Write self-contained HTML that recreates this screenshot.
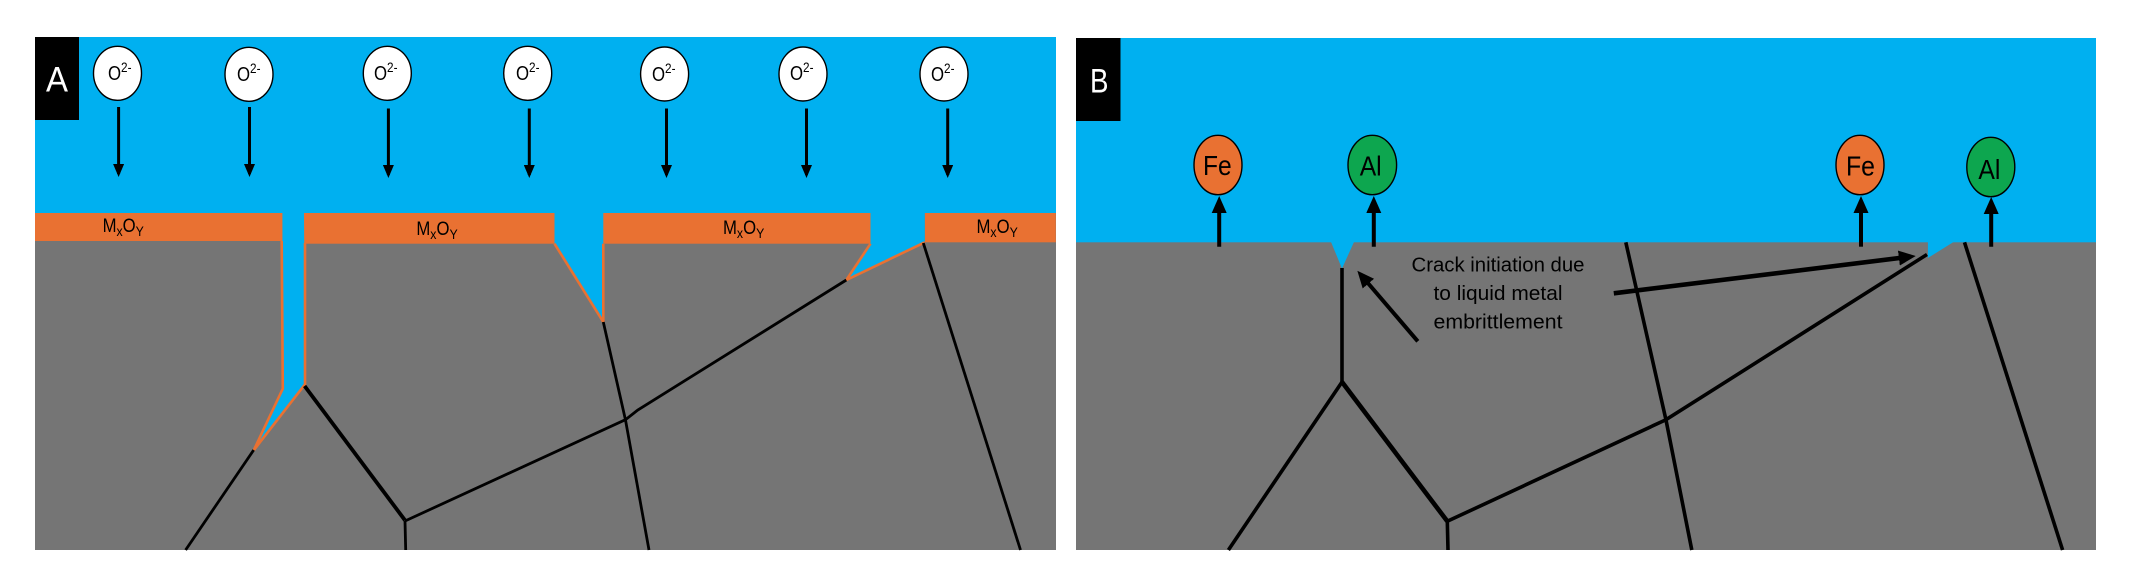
<!DOCTYPE html>
<html><head><meta charset="utf-8"><style>
html,body{margin:0;padding:0;background:#fff;width:2134px;height:587px;overflow:hidden}
svg{display:block}
text{font-family:"Liberation Sans",sans-serif;fill:#000}
</style></head><body>
<svg width="2134" height="587" viewBox="0 0 2134 587" xmlns="http://www.w3.org/2000/svg">
<defs>
<marker id="h1" viewBox="0 0 13 11" refX="10" refY="5.5" markerUnits="userSpaceOnUse" markerWidth="13" markerHeight="11" orient="auto"><path d="M0 0L13 5.5L0 11z" fill="#000"/></marker>
<marker id="h2" viewBox="0 0 17 15" refX="12" refY="7.5" markerUnits="userSpaceOnUse" markerWidth="17" markerHeight="15" orient="auto"><path d="M0 0L17 7.5L0 15z" fill="#000"/></marker>
</defs>

<!-- PANEL A -->
<rect x="35" y="37" width="1021" height="513" fill="#757575"/>
<rect x="35" y="37" width="1021" height="176" fill="#00B0F0"/>
<!-- oxide -->
<rect x="35" y="213" width="247.5" height="28" fill="#E97132"/>
<rect x="304" y="213" width="250.5" height="30.7" fill="#E97132"/>
<rect x="601" y="213" width="269.5" height="30.7" fill="#E97132"/>
<rect x="924.8" y="213" width="131" height="29.3" fill="#E97132"/>
<!-- cracks -->
<path d="M282.4 213L282.8 388.7L253.7 450.3L305 384.3L304 213z" fill="#00B0F0"/>
<path d="M554.5 213V243.7L603.3 322V213z" fill="#00B0F0"/>
<path d="M870.5 213V243.7L846.3 280L924.8 242.3V213z" fill="#00B0F0"/>
<g fill="none" stroke="#E97132" stroke-width="2.6">
<path d="M281.7 241L282.8 388.7L253.7 450.3L305 384.3L305 243"/>
<path d="M554.5 243.7L603.3 322L603.3 243.7"/>
<path d="M870.5 243.7L846.3 280L924.8 242.3"/>
</g>
<!-- grain boundaries A -->
<g fill="none" stroke="#000" stroke-width="2.8">
<path d="M253.7 450L185.6 550"/>
<path d="M304.6 386L405 520.3" stroke-width="3.8"/>
<path d="M405 521L405.7 550"/>
<path d="M405 521L625.5 419.7L637.8 410L846.3 280"/>
<path d="M603.3 322L625.5 420L649 550"/>
<path d="M923.3 243L1020.5 550"/>
</g>
<!-- O2- ions -->
<g fill="#fff" stroke="#000" stroke-width="1.4">
<ellipse cx="117.5" cy="73.3" rx="24" ry="27"/>
<ellipse cx="249" cy="74.3" rx="24" ry="27"/>
<ellipse cx="387.3" cy="73.3" rx="24" ry="27"/>
<ellipse cx="527.7" cy="73.3" rx="24" ry="27"/>
<ellipse cx="664.6" cy="74" rx="24" ry="27"/>
<ellipse cx="803" cy="74" rx="24" ry="27"/>
<ellipse cx="944" cy="74" rx="24" ry="27"/>
</g>
<g font-size="20">
<g transform="translate(108,80) scale(.84,1)"><text>O<tspan font-size="14" dy="-8">2-</tspan></text></g>
<g transform="translate(237,81) scale(.84,1)"><text>O<tspan font-size="14" dy="-8">2-</tspan></text></g>
<g transform="translate(374,80) scale(.84,1)"><text>O<tspan font-size="14" dy="-8">2-</tspan></text></g>
<g transform="translate(516,80) scale(.84,1)"><text>O<tspan font-size="14" dy="-8">2-</tspan></text></g>
<g transform="translate(652,81) scale(.84,1)"><text>O<tspan font-size="14" dy="-8">2-</tspan></text></g>
<g transform="translate(790,80) scale(.84,1)"><text>O<tspan font-size="14" dy="-8">2-</tspan></text></g>
<g transform="translate(931,81) scale(.84,1)"><text>O<tspan font-size="14" dy="-8">2-</tspan></text></g>
</g>
<g stroke="#000" stroke-width="3" fill="none">
<path d="M118.6 107V174" marker-end="url(#h1)"/>
<path d="M249.5 107V174" marker-end="url(#h1)"/>
<path d="M388.4 108.5V175" marker-end="url(#h1)"/>
<path d="M529.3 108.5V175" marker-end="url(#h1)"/>
<path d="M666.5 108.5V175" marker-end="url(#h1)"/>
<path d="M806.5 108.5V175" marker-end="url(#h1)"/>
<path d="M947.7 108.5V175" marker-end="url(#h1)"/>
</g>
<g font-size="19">
<g transform="translate(102.6,232) scale(.88,1)"><text>M<tspan font-size="14" dy="4">x</tspan><tspan dy="-4">O</tspan><tspan font-size="14" dy="4">Y</tspan></text></g>
<g transform="translate(416.4,235) scale(.88,1)"><text>M<tspan font-size="14" dy="4">x</tspan><tspan dy="-4">O</tspan><tspan font-size="14" dy="4">Y</tspan></text></g>
<g transform="translate(723,234) scale(.88,1)"><text>M<tspan font-size="14" dy="4">x</tspan><tspan dy="-4">O</tspan><tspan font-size="14" dy="4">Y</tspan></text></g>
<g transform="translate(976.5,233) scale(.88,1)"><text>M<tspan font-size="14" dy="4">x</tspan><tspan dy="-4">O</tspan><tspan font-size="14" dy="4">Y</tspan></text></g>
</g>
<rect x="35" y="37" width="44" height="83" fill="#000"/>
<text x="46" y="91.7" font-size="35" style="fill:#fff" textLength="22" lengthAdjust="spacingAndGlyphs">A</text>

<!-- PANEL B -->
<rect x="1076" y="38" width="1020" height="512" fill="#757575"/>
<rect x="1076" y="38" width="1020" height="204.3" fill="#00B0F0"/>
<path d="M1331 242L1354 242L1342 268.5z" fill="#00B0F0"/>
<path d="M1927.9 242L1953.5 242L1927.9 258z" fill="#00B0F0"/>
<g fill="none" stroke="#000" stroke-width="3.6">
<path d="M1342 268V382"/>
<path d="M1342 382L1228.4 550"/>
<path d="M1342 382L1447.3 521.3" stroke-width="4.6"/>
<path d="M1447.3 521L1448 550"/>
<path d="M1447.3 521.3L1666 419.7L1927 254.5"/>
<path d="M1625.8 242.3L1666 420L1691.8 550"/>
<path d="M1964.5 242.3L2062.6 550"/>
<path d="M1613.8 293.3L1910.8 256.6" stroke-width="4.6" marker-end="url(#h2)"/>
<path d="M1417.8 341.3L1360.6 274.5" stroke-width="4" marker-end="url(#h2)"/>
</g>
<g stroke="#000" stroke-width="1.4">
<ellipse cx="1218" cy="165" rx="24" ry="29.7" fill="#E97132"/>
<ellipse cx="1372.3" cy="165" rx="24.3" ry="29.7" fill="#0DA64F"/>
<ellipse cx="1860" cy="165" rx="24" ry="29.7" fill="#E97132"/>
<ellipse cx="1990.8" cy="167" rx="24" ry="29.7" fill="#0DA64F"/>
</g>
<g stroke="#000" stroke-width="4" fill="none">
<path d="M1219.2 246.7V201" marker-end="url(#h2)"/>
<path d="M1373.8 246.7V201" marker-end="url(#h2)"/>
<path d="M1861 246.7V201" marker-end="url(#h2)"/>
<path d="M1991.2 246.7V202" marker-end="url(#h2)"/>
</g>
<text x="1203" y="175" font-size="28" textLength="28.7" lengthAdjust="spacingAndGlyphs">Fe</text>
<text x="1359.7" y="175.7" font-size="28" textLength="22" lengthAdjust="spacingAndGlyphs">Al</text>
<text x="1846" y="175.7" font-size="28" textLength="29" lengthAdjust="spacingAndGlyphs">Fe</text>
<text x="1978.4" y="179" font-size="28" textLength="22" lengthAdjust="spacingAndGlyphs">Al</text>
<text x="1411.5" y="271.7" font-size="20" textLength="173" lengthAdjust="spacingAndGlyphs">Crack initiation due</text>
<text x="1433.5" y="300" font-size="20" textLength="129" lengthAdjust="spacingAndGlyphs">to liquid metal</text>
<text x="1433.5" y="328.7" font-size="20" textLength="129" lengthAdjust="spacingAndGlyphs">embrittlement</text>
<rect x="1076" y="38" width="44.5" height="83" fill="#000"/>
<text x="1090" y="92.3" font-size="34" style="fill:#fff" textLength="18.5" lengthAdjust="spacingAndGlyphs">B</text>
</svg>
</body></html>
